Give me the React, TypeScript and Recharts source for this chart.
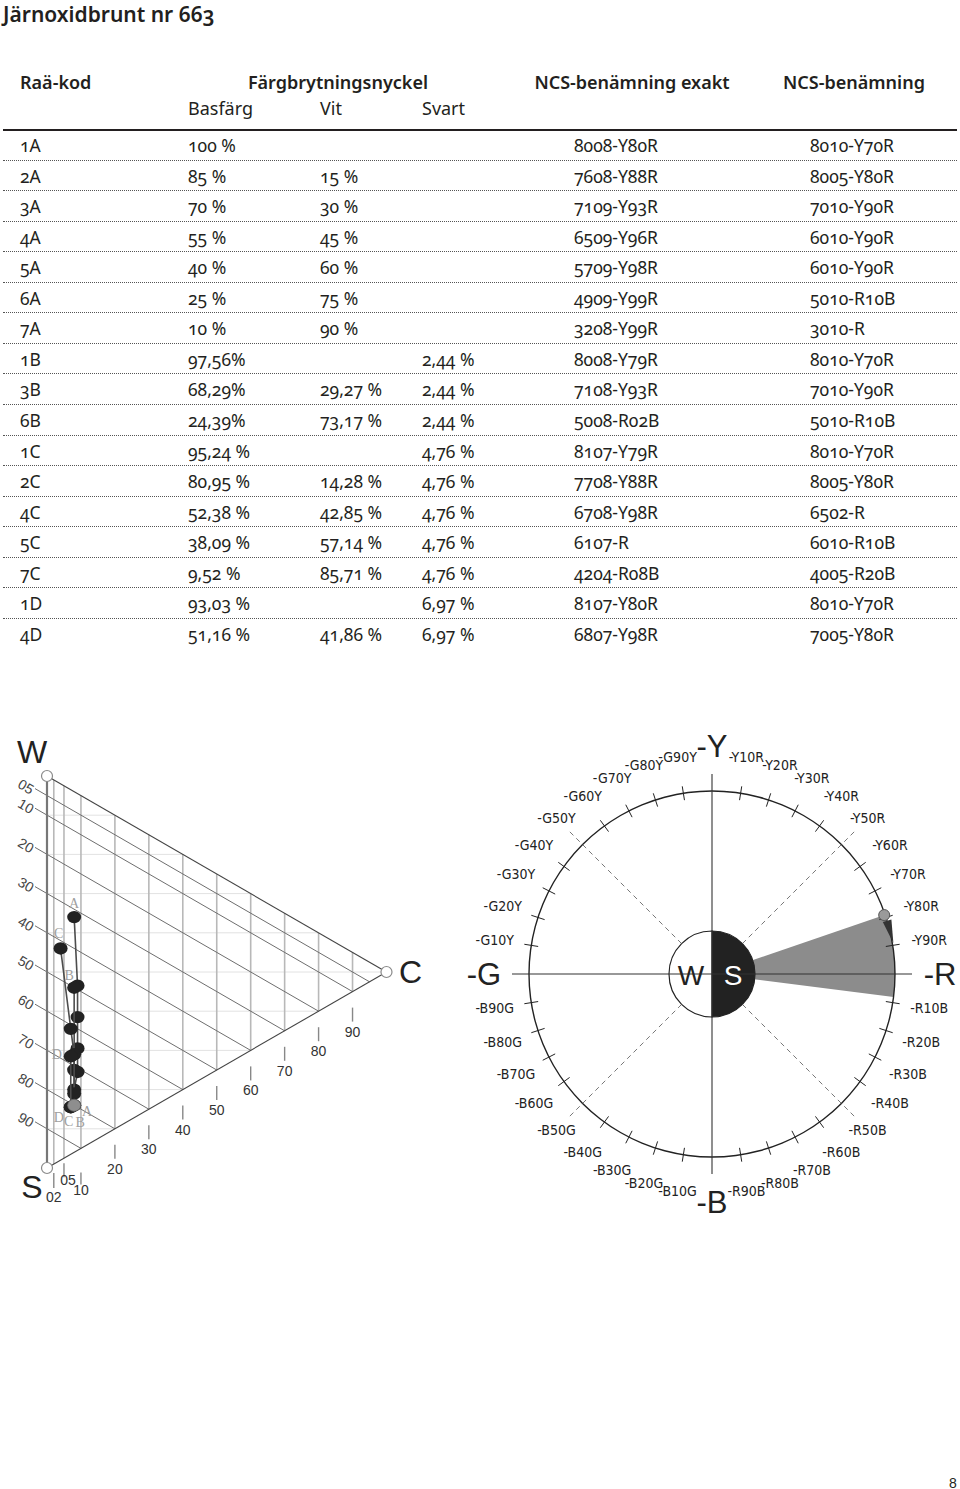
import React from 'react';
import { ScatterChart, Scatter, XAxis, YAxis, ReferenceLine, PieChart, Pie, Cell } from 'recharts';

const codes = ['1A', '2A', '3A', '4A', '5A', '6A', '7A', '1B', '3B', '6B', '1C', '2C', '4C', '5C', '7C', '1D', '4D'];
const basfarg = ['100 %', '85 %', '70 %', '55 %', '40 %', '25 %', '10 %', '97,56%', '68,29%', '24,39%', '95,24 %', '80,95 %', '52,38 %', '38,09 %', '9,52 %', '93,03 %', '51,16 %'];
const vit = ['', '15 %', '30 %', '45 %', '60 %', '75 %', '90 %', '', '29,27 %', '73,17 %', '', '14,28 %', '42,85 %', '57,14 %', '85,71 %', '', '41,86 %'];
const svart = ['', '', '', '', '', '', '', '2,44 %', '2,44 %', '2,44 %', '4,76 %', '4,76 %', '4,76 %', '4,76 %', '4,76 %', '6,97 %', '6,97 %'];
const ncsExakt = ['8008-Y80R', '7608-Y88R', '7109-Y93R', '6509-Y96R', '5709-Y98R', '4909-Y99R', '3208-Y99R', '8008-Y79R', '7108-Y93R', '5008-R02B', '8107-Y79R', '7708-Y88R', '6708-Y98R', '6107-R', '4204-R08B', '8107-Y80R', '6807-Y98R'];
const ncsNamn = ['8010-Y70R', '8005-Y80R', '7010-Y90R', '6010-Y90R', '6010-Y90R', '5010-R10B', '3010-R', '8010-Y70R', '7010-Y90R', '5010-R10B', '8010-Y70R', '8005-Y80R', '6502-R', '6010-R10B', '4005-R20B', '8010-Y70R', '7005-Y80R'];

const seriesNames = ['A', 'B', 'C', 'D'];
const chromaTicks = [2, 5, 10, 20, 30, 40, 50, 60, 70, 80, 90];
const blackTicks = [5, 10, 20, 30, 40, 50, 60, 70, 80, 90];
const faintLevels = [10, 20, 30, 40, 50, 60, 70, 80, 90];
const hueSteps = [
  'Y', 'Y10R', 'Y20R', 'Y30R', 'Y40R', 'Y50R', 'Y60R', 'Y70R', 'Y80R', 'Y90R',
  'R', 'R10B', 'R20B', 'R30B', 'R40B', 'R50B', 'R60B', 'R70B', 'R80B', 'R90B',
  'B', 'B10G', 'B20G', 'B30G', 'B40G', 'B50G', 'B60G', 'B70G', 'B80G', 'B90G',
  'G', 'G10Y', 'G20Y', 'G30Y', 'G40Y', 'G50Y', 'G60Y', 'G70Y', 'G80Y', 'G90Y',
];

const SQ = Math.sqrt(3) / 2;
const UNIT = 392; // px per triangle height
const X0 = -47 / UNIT;
const Y0 = -46 / UNIT;
const TRI_W = 460;
const TRI_H = 480;

const TXT = '#231f20';
const tableFont = '"Noto Sans", "Open Sans", sans-serif';
const chartFont = '"Liberation Sans", "DejaVu Sans", sans-serif';
const narrowFont = '"Liberation Sans Narrow", "DejaVu Sans Condensed", "Roboto Condensed", "Liberation Sans", sans-serif';

function ncsParts(ncs: string) {
  return { s: parseInt(ncs.slice(0, 2), 10), c: parseInt(ncs.slice(2, 4), 10), hue: ncs.slice(5) };
}

// NCS hue -> degrees, Y on top (90), R to the right (0), clockwise through B and G
function hueAngle(hue: string) {
  const base: Record<string, number> = { Y: 90, R: 0, B: -90, G: -180 };
  const m = hue.match(/^([YRBG])(\d{2})?/);
  if (!m) return 0;
  return base[m[1]] - 0.9 * (m[2] ? parseInt(m[2], 10) : 0);
}

const toTri = (s: number, c: number) => ({ u: (SQ * c) / 100, v: s / 100 + c / 200 });

const samples = codes.map((code, i) => {
  const p = ncsParts(ncsExakt[i]);
  return { code, series: code.slice(-1), ...toTri(p.s, p.c), angle: hueAngle(p.hue) };
});

const hueAngles = samples.map((d) => d.angle);
const hueMax = Math.max(...hueAngles);
const hueMin = Math.min(...hueAngles);

const px = (n: number) => n / UNIT;

const labelOffsets: Record<string, [number, number]> = {
  'A-end': [0, -14],
  'B-end': [-5, -12],
  'C-end': [-2, -15],
  'D-end': [-14, -2],
  'A-start': [13, 6],
  'B-start': [6, 17],
  'C-start': [-2, 14],
  'D-start': [-12, 10],
};

const seriesLabels = seriesNames.flatMap((name) => {
  const pts = samples.filter((d) => d.series === name);
  return [
    { ...pts[0], key: `${name}-start` },
    { ...pts[pts.length - 1], key: `${name}-end` },
  ];
});

const Dot = (props: any) => <ellipse cx={props.cx} cy={props.cy} rx={7} ry={6.2} fill="#222" />;
const GrayDot = (props: any) => <ellipse cx={props.cx} cy={props.cy} rx={6.5} ry={6} fill="#8e8e8e" stroke="#666" strokeWidth={0.8} />;

const SeriesLabel = (props: any) => {
  const off = labelOffsets[props.payload.key] || [0, 0];
  return (
    <text x={props.cx + off[0]} y={props.cy + off[1]} textAnchor="middle" dominantBaseline="central" fontFamily='"Liberation Serif", serif' fontSize={14} fill="#a0a0a0">
      {props.payload.series}
    </text>
  );
};

const ChromaTick = (props: any) => {
  const c = props.payload.c;
  const { cx, cy } = props;
  let t0 = 16, t1 = 30, ly = 40, lx = 0;
  if (c === 2) { t0 = 9; t1 = 24; ly = 33; }
  if (c === 5) { t0 = 5; t1 = 19; ly = 22; lx = 4; }
  if (c === 10) { t0 = 24; t1 = 36; ly = 42; }
  return (
    <g>
      <line x1={cx} x2={cx} y1={cy + t0} y2={cy + t1} stroke="#888" strokeWidth={1.4} />
      <text x={cx + lx} y={cy + ly} textAnchor="middle" dominantBaseline="central" fontFamily={chartFont} fontSize={14} fill="#333">
        {String(c).padStart(2, '0')}
      </text>
    </g>
  );
};

const BlackTick = (props: any) => {
  const x = props.cx - 21;
  const y = props.cy - 9;
  return (
    <text x={x} y={y} transform={`rotate(30 ${x} ${y})`} textAnchor="middle" dominantBaseline="central" fontFamily={chartFont} fontSize={14} fill="#444">
      {String(props.payload.s).padStart(2, '0')}
    </text>
  );
};

const vertexOffsets: Record<string, [number, number]> = { W: [-15, -24], S: [-15, 19], C: [24, 0] };
const Vertex = (props: any) => {
  const off = vertexOffsets[props.payload.name];
  return (
    <g>
      <circle cx={props.cx} cy={props.cy} r={5.5} fill="#fff" stroke="#8a8a8a" strokeWidth={1.2} />
      <text x={props.cx + off[0]} y={props.cy + off[1]} textAnchor="middle" dominantBaseline="central" fontFamily={chartFont} fontSize={32} fill="#222">
        {props.payload.name}
      </text>
    </g>
  );
};

function NcsTriangle() {
  const chromaTickData = chromaTicks.map((c) => ({ c, u: (SQ * c) / 100, v: 1 - c / 200 }));
  const blackTickData = blackTicks.map((s) => ({ s, u: 0, v: s / 100 }));
  const vertices = [
    { name: 'W', u: 0, v: 0 },
    { name: 'S', u: 0, v: 1 },
    { name: 'C', u: SQ, v: 0.5 },
  ];
  const bas = samples[0];
  return (
    <ScatterChart width={TRI_W} height={TRI_H} margin={{ top: 0, right: 0, bottom: 0, left: 0 }}>
      <XAxis type="number" dataKey="u" domain={[X0, X0 + TRI_W / UNIT]} allowDataOverflow hide />
      <YAxis type="number" dataKey="v" domain={[Y0, Y0 + TRI_H / UNIT]} allowDataOverflow hide reversed />
      {faintLevels.map((k) => {
        const v = k / 100;
        const c = v <= 0.5 ? 2 * v : 2 * (1 - v);
        return (
          <ReferenceLine key={`f${k}`} segment={[{ x: 0, y: v }, { x: SQ * c, y: v }]} stroke="#e2e2e2" strokeWidth={1} ifOverflow="visible" />
        );
      })}
      {chromaTicks.map((c) => (
        <ReferenceLine key={`c${c}`} segment={[{ x: (SQ * c) / 100, y: c / 200 }, { x: (SQ * c) / 100, y: 1 - c / 200 }]} stroke="#b8b8b8" strokeWidth={1.6} ifOverflow="visible" />
      ))}
      {blackTicks.map((s) => {
        const f = s / 100;
        return (
          <ReferenceLine key={`s${s}`} segment={[{ x: -px(12), y: f - px(7) }, { x: SQ * (1 - f), y: f + (1 - f) / 2 }]} stroke="#6e6e6e" strokeWidth={1} ifOverflow="visible" />
        );
      })}
      <ReferenceLine segment={[{ x: 0, y: 0 }, { x: SQ, y: 0.5 }]} stroke="#444" strokeWidth={1.1} ifOverflow="visible" />
      <ReferenceLine segment={[{ x: 0, y: 1 }, { x: SQ, y: 0.5 }]} stroke="#444" strokeWidth={1.1} ifOverflow="visible" />
      <ReferenceLine segment={[{ x: 0, y: 0 }, { x: 0, y: 1 }]} stroke="#777" strokeWidth={2.2} ifOverflow="visible" />
      <Scatter data={chromaTickData} shape={ChromaTick} isAnimationActive={false} />
      <Scatter data={blackTickData} shape={BlackTick} isAnimationActive={false} />
      {seriesNames.map((name) => (
        <Scatter
          key={name}
          data={samples.filter((d) => d.series === name)}
          line={{ stroke: '#4d4d4d', strokeWidth: 1.6 }}
          lineType="joint"
          shape={Dot}
          isAnimationActive={false}
        />
      ))}
      <Scatter data={[bas]} shape={GrayDot} isAnimationActive={false} />
      <Scatter data={seriesLabels} shape={SeriesLabel} isAnimationActive={false} />
      <Scatter data={vertices} shape={Vertex} isAnimationActive={false} />
    </ScatterChart>
  );
}

// ---- hue circle ----
const CX = 252;
const CY = 244;
const R = 183;
const RAD = Math.PI / 180;
const polar = (cx: number, cy: number, r: number, a: number) => ({ x: cx + r * Math.cos(-a * RAD), y: cy + r * Math.sin(-a * RAD) });

const axisData = [0, 1, 2, 3, 4, 5, 6, 7].map((i) => ({ value: 1, dashed: i % 2 === 1 }));
const hueData = hueSteps.map((name) => ({ name, value: 1 }));
const centerData = [{ name: 'S', value: 1 }, { name: 'W', value: 1 }];

const AxisLine = (props: any) => {
  const cx = props.cx ?? CX;
  const cy = props.cy ?? CY;
  const dashed = props.payload?.dashed ?? props.dashed;
  const a = props.midAngle;
  const p0 = polar(cx, cy, dashed ? 43 : 0, a);
  const p1 = polar(cx, cy, dashed ? 205 : 200, a);
  return (
    <line x1={p0.x} y1={p0.y} x2={p1.x} y2={p1.y} stroke={dashed ? '#555' : '#333'} strokeWidth={dashed ? 0.8 : 1.1} strokeDasharray={dashed ? '5 4' : undefined} />
  );
};

const HueTick = (props: any) => {
  const cx = props.cx ?? CX;
  const cy = props.cy ?? CY;
  const a = props.midAngle;
  const i = props.index;
  const name = hueSteps[i];
  if (i % 10 === 0) {
    const p = polar(cx, cy, 228, a);
    return (
      <text x={p.x} y={p.y} textAnchor="middle" dominantBaseline="central" fontFamily={chartFont} fontSize={31} fill="#222">
        {'-' + name}
      </text>
    );
  }
  const t0 = polar(cx, cy, 176, a);
  const t1 = polar(cx, cy, 190, a);
  const p = polar(cx, cy, 220, a);
  return (
    <g>
      {i % 5 !== 0 && <line x1={t0.x} y1={t0.y} x2={t1.x} y2={t1.y} stroke="#222" strokeWidth={1} />}
      <text x={p.x} y={p.y} textAnchor="middle" dominantBaseline="central" fontFamily={narrowFont} fontSize={14} fill="#222">
        {'-' + name}
      </text>
    </g>
  );
};

const CenterLabel = (props: any) => {
  const cx = props.cx ?? CX;
  const cy = props.cy ?? CY;
  const p = polar(cx, cy, 21, props.midAngle);
  const isS = props.index === 0;
  return (
    <text x={p.x} y={p.y + 1} textAnchor="middle" dominantBaseline="central" fontFamily={chartFont} fontSize={28} fill={isS ? '#fff' : '#222'}>
      {centerData[props.index].name}
    </text>
  );
};

const Marker = (props: any) => {
  const cx = props.cx ?? CX;
  const cy = props.cy ?? CY;
  const b1 = polar(cx, cy, R - 4.5, hueMax - 2);
  const b2 = polar(cx, cy, R + 4.5, hueMax - 2);
  const tip = polar(cx, cy, R + 1, hueMax - 9.2);
  const dot = polar(cx, cy, R - 1, hueMax);
  return (
    <g>
      <polygon points={`${b1.x},${b1.y} ${b2.x},${b2.y} ${tip.x},${tip.y}`} fill="#333" />
      <circle cx={dot.x} cy={dot.y} r={5.5} fill="#9a9a9a" stroke="#555" strokeWidth={1} />
    </g>
  );
};

function HueCircle() {
  return (
    <PieChart width={500} height={490} margin={{ top: 0, right: 0, bottom: 0, left: 0 }}>
      <Pie data={[{ value: 1 }]} dataKey="value" cx={CX} cy={CY} innerRadius={0} outerRadius={R} startAngle={hueMax} endAngle={hueMin} fill="#8c8c8c" stroke="none" isAnimationActive={false} />
      <Pie data={axisData} dataKey="value" cx={CX} cy={CY} innerRadius={0} outerRadius={R} startAngle={112.5} endAngle={-247.5} fill="none" stroke="none" label={AxisLine} labelLine={false} isAnimationActive={false} />
      <Pie data={[{ value: 1 }]} dataKey="value" cx={CX} cy={CY} innerRadius={R - 0.7} outerRadius={R + 0.7} startAngle={90} endAngle={-270} fill="#222" stroke="none" isAnimationActive={false} />
      <Pie data={hueData} dataKey="value" cx={CX} cy={CY} innerRadius={0} outerRadius={R} startAngle={94.5} endAngle={-265.5} fill="none" stroke="none" label={HueTick} labelLine={false} isAnimationActive={false} />
      <Pie data={centerData} dataKey="value" cx={CX} cy={CY} innerRadius={0} outerRadius={43} startAngle={90} endAngle={-270} stroke="#222" strokeWidth={1.2} label={CenterLabel} labelLine={false} isAnimationActive={false}>
        <Cell fill="#222" />
        <Cell fill="#fff" />
      </Pie>
      <Pie data={[{ value: 1 }]} dataKey="value" cx={CX} cy={CY} innerRadius={R} outerRadius={R} startAngle={hueMax} endAngle={hueMax - 9} fill="none" stroke="none" label={Marker} labelLine={false} isAnimationActive={false} />
    </PieChart>
  );
}

const ROW_TOP = 130;
const ROW_H = 30.56;

export default function App() {
  const cell = (left: number, text: string, extra: React.CSSProperties = {}) => (
    <div style={{ position: 'absolute', left, top: 0, height: ROW_H, lineHeight: `${ROW_H}px`, whiteSpace: 'nowrap', ...extra }}>{text}</div>
  );
  return (
    <div style={{ position: 'absolute', left: 0, top: 0, width: 960, height: 1489, background: '#fff', fontFamily: tableFont, color: TXT, fontVariantNumeric: 'oldstyle-nums' }}>
      <div style={{ position: 'absolute', left: 3, top: 0, fontSize: 21, fontWeight: 600, lineHeight: '28px' }}>Järnoxidbrunt nr 663</div>

      <div style={{ position: 'absolute', left: 20, top: 70, fontSize: 18, fontWeight: 600, lineHeight: '24px' }}>Raä-kod</div>
      <div style={{ position: 'absolute', left: 228, width: 220, textAlign: 'center', top: 70, fontSize: 18, fontWeight: 600, lineHeight: '24px' }}>Färgbrytningsnyckel</div>
      <div style={{ position: 'absolute', left: 512, width: 240, textAlign: 'center', top: 70, fontSize: 18, fontWeight: 600, lineHeight: '24px' }}>NCS-benämning exakt</div>
      <div style={{ position: 'absolute', left: 754, width: 200, textAlign: 'center', top: 70, fontSize: 18, fontWeight: 600, lineHeight: '24px' }}>NCS-benämning</div>
      <div style={{ position: 'absolute', left: 188, top: 96, fontSize: 18, lineHeight: '24px' }}>Basfärg</div>
      <div style={{ position: 'absolute', left: 320, top: 96, fontSize: 18, lineHeight: '24px' }}>Vit</div>
      <div style={{ position: 'absolute', left: 422, top: 96, fontSize: 18, lineHeight: '24px' }}>Svart</div>

      <div style={{ position: 'absolute', left: 3, width: 954, top: ROW_TOP - 1, height: 1.6, background: '#231f20' }} />
      {codes.map((code, i) => (
        <div
          key={code}
          style={{
            position: 'absolute',
            left: 3,
            width: 954,
            top: ROW_TOP + i * ROW_H,
            height: ROW_H,
            fontSize: 17.5,
            borderBottom: i < codes.length - 1 ? '1px dotted #555' : 'none',
            boxSizing: 'border-box',
          }}
        >
          {cell(17, code)}
          {cell(185, basfarg[i])}
          {cell(317, vit[i])}
          {cell(419, svart[i])}
          {cell(571, ncsExakt[i])}
          {cell(807, ncsNamn[i])}
        </div>
      ))}

      <div style={{ position: 'absolute', left: 0, top: 730, width: TRI_W, height: TRI_H }}>
        <NcsTriangle />
      </div>
      <div style={{ position: 'absolute', left: 460, top: 730, width: 500, height: 490 }}>
        <HueCircle />
      </div>

      <div style={{ position: 'absolute', left: 943, width: 20, textAlign: 'center', top: 1473, fontSize: 14, lineHeight: '20px', fontFamily: chartFont }}>8</div>
    </div>
  );
}
